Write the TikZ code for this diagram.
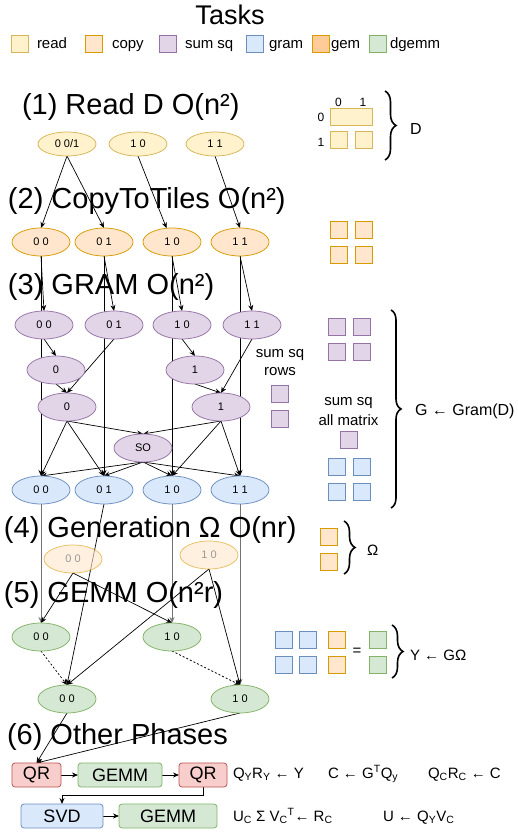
\documentclass[tikz,border=0pt]{standalone}
\usepackage{fontspec}
\setmainfont{Liberation Sans}
\usetikzlibrary{shapes.geometric,arrows.meta,decorations.pathreplacing,backgrounds}
\definecolor{readF}{HTML}{FFF2CC}\definecolor{readD}{HTML}{D6B656}
\definecolor{copyF}{HTML}{FFE6CC}\definecolor{copyD}{HTML}{D79B00}
\definecolor{sumF}{HTML}{E1D5E7}\definecolor{sumD}{HTML}{9673A6}
\definecolor{gramF}{HTML}{DAE8FC}\definecolor{gramD}{HTML}{6C8EBF}
\definecolor{gemF}{HTML}{FFCC99}\definecolor{gemD}{HTML}{D79B00}
\definecolor{dgF}{HTML}{D5E8D4}\definecolor{dgD}{HTML}{82B366}
\definecolor{qrF}{HTML}{F8CECC}\definecolor{qrD}{HTML}{B85450}
\newcommand\myfs[1]{\fontsize{#1}{#1}\selectfont}
\begin{document}
\begin{tikzpicture}[x=1pt,y=-1pt,
  every node/.style={inner sep=0pt, outer sep=0pt},
  ell/.style={ellipse, minimum width=58pt, minimum height=28pt, line width=0.75pt, font=\myfs{11}},
  readn/.style={ell, minimum height=24pt, fill=readF, draw=readD},
  copyn/.style={ell, fill=copyF, draw=copyD},
  sumn/.style={ell, fill=sumF, draw=sumD},
  gramn/.style={ell, fill=gramF, draw=gramD},
  omn/.style={ell, fill=copyF, draw=copyD, fill opacity=0.6, draw opacity=0.6, text=black!40, text opacity=1},
  dgn/.style={ell, fill=dgF, draw=dgD},
  taskbox/.style={rectangle, rounded corners=3pt, minimum height=24pt, line width=0.75pt, font=\myfs{18}},
  sq/.style={rectangle, minimum width=17pt, minimum height=17pt, line width=0.9pt},
  sqread/.style={sq, fill=readF, draw=readD},
  sqcopy/.style={sq, fill=copyF, draw=copyD},
  sqsum/.style={sq, fill=sumF, draw=sumD},
  sqgram/.style={sq, fill=gramF, draw=gramD},
  sqgem/.style={sq, fill=gemF, draw=gemD},
  sqdg/.style={sq, fill=dgF, draw=dgD},
  hd/.style={anchor=west, font=\myfs{29}},
  lbl/.style={anchor=base west, font=\myfs{15}},
  arr/.style={-{Stealth[length=6pt,width=5pt]}, line width=0.7pt},
  brc/.style={decorate, decoration={brace, amplitude=#1}, line width=1.6pt},
  brc/.default=10pt
]
\useasboundingbox (0,0) rectangle (518,832);

% title and legend
\node[font=\myfs{27}] (title) at (230,15) {Tasks};
\node[sqread] (lg1) at (20,43.5) {};
\node[lbl] (lt1) at (37,49) {read};
\node[sqcopy] (lg2) at (94,43.5) {};
\node[lbl] (lt2) at (112,49) {copy};
\node[sqsum] (lg3) at (168,43.5) {};
\node[lbl] (lt3) at (185,49) {sum sq};
\node[sqgram] (lg4) at (254.5,43.5) {};
\node[lbl] (lt4) at (269,49) {gram};
\node[sqgem] (lg5) at (320.5,43.5) {};
\node[lbl] (lt5) at (331,49) {gem};
\node[sqdg] (lg6) at (378,43.5) {};
\node[lbl] (lt6) at (390,49) {dgemm};

% headings
\node[hd] (h1) at (22,107) {(1) Read D O(n²)};
\node[hd] (h2) at (8,201) {(2) CopyToTiles O(n²)};
\node[hd] (h3) at (8,287) {(3) GRAM O(n²)};
\node[hd] (h4) at (4,530) {(4) Generation Ω O(nr)};
\node[hd] (h5) at (4,595) {(5) GEMM O(n²r)};
\node[hd] (h6) at (7,737) {(6) Other Phases};

% read
\node[readn] (r0) at (67,144) {0 0/1};
\node[readn] (r1) at (138,144) {1 0};
\node[readn] (r2) at (215,144) {1 1};
% copy
\node[copyn] (c00) at (41,242) {0 0};
\node[copyn] (c01) at (104,242) {0 1};
\node[copyn] (c10) at (172,242) {1 0};
\node[copyn] (c11) at (240,242) {1 1};
% sum sq
\node[sumn] (s00) at (44,325) {0 0};
\node[sumn] (s01) at (114,325) {0 1};
\node[sumn] (s10) at (182,325) {1 0};
\node[sumn] (s11) at (252,325) {1 1};
\node[sumn] (l20) at (56,370) {0};
\node[sumn] (l21) at (195,370) {1};
\node[sumn] (l30) at (67,407) {0};
\node[sumn] (l31) at (221,407) {1};
\node[sumn] (so) at (143,448) {SO};
% gram
\node[gramn] (g00) at (41,490) {0 0};
\node[gramn] (g01) at (104,490) {0 1};
\node[gramn] (g10) at (172,490) {1 0};
\node[gramn] (g11) at (240,490) {1 1};
% omega
\node[omn] (o0) at (73,559) {0 0};
\node[omn] (o1) at (209,555) {1 0};
% gemm
\node[dgn] (e00) at (41,637) {0 0};
\node[dgn] (e10) at (172,637) {1 0};
\node[dgn] (f00) at (67,699) {0 0};
\node[dgn] (f10) at (240,699) {1 0};

% other phases
\node[taskbox, minimum width=49pt, fill=qrF, draw=qrD] (qr1) at (36.5,775) {QR};
\node[taskbox, minimum width=84pt, fill=dgF, draw=dgD] (gm1) at (120,775) {GEMM};
\node[taskbox, minimum width=48pt, fill=qrF, draw=qrD] (qr2) at (203,775) {QR};
\node[taskbox, minimum width=82pt, fill=gramF, draw=gramD] (svd) at (62,816) {SVD};
\node[taskbox, minimum width=98pt, fill=dgF, draw=dgD] (gm2) at (168,816) {GEMM};
\node[lbl] (t1) at (233,778) {Q\textsubscript{Y}R\textsubscript{Y} ← Y};
\node[lbl] (t2) at (328,778) {C ← G\textsuperscript{T}Q\textsubscript{y}};
\node[lbl] (t3) at (428,778) {Q\textsubscript{C}R\textsubscript{C} ← C};
\node[lbl] (t4) at (233,821) {U\textsubscript{C} Σ V\textsubscript{C}\textsuperscript{T}← R\textsubscript{C}};
\node[lbl] (t5) at (383,821) {U ← Q\textsubscript{Y}V\textsubscript{C}};

% right side: D
\node[font=\myfs{12}] (cl0) at (338.5,102) {0};
\node[font=\myfs{12}] (cl1) at (363,102) {1};
\node[font=\myfs{12}] (rl0) at (321,117) {0};
\node[font=\myfs{12}] (rl1) at (321,142) {1};
\node[sqread, minimum width=42pt] (dw) at (351,116.5) {};
\node[sqread] (d10) at (338.5,139.5) {};
\node[sqread] (d11) at (363.5,139.5) {};
\draw[brc=11pt] (385,91) -- (385,160);
\node[anchor=base west, font=\myfs{16}] (dl) at (410,135) {D};
% copy tiles
\node[sqcopy] (k1) at (338.5,230) {};
\node[sqcopy] (k2) at (363.5,230) {};
\node[sqcopy] (k3) at (338.5,254.5) {};
\node[sqcopy] (k4) at (363.5,254.5) {};
% gram block
\node[sqsum] (p1) at (336.5,326.5) {};
\node[sqsum] (p2) at (361.5,326.5) {};
\node[sqsum] (p3) at (336.5,351.5) {};
\node[sqsum] (p4) at (361.5,351.5) {};
\node[anchor=base, font=\myfs{15}] (ss1) at (280,357) {sum sq};
\node[anchor=base, font=\myfs{15}] (ss2) at (280,375) {rows};
\node[sqsum] (p5) at (280,393.5) {};
\node[sqsum] (p6) at (280,418.5) {};
\node[anchor=base, font=\myfs{15}] (sa1) at (348.5,405) {sum sq};
\node[anchor=base, font=\myfs{15}] (sa2) at (348.5,425) {all matrix};
\node[sqsum] (p7) at (348.5,440) {};
\node[sqgram] (b1) at (336.5,466.5) {};
\node[sqgram] (b2) at (361.5,466.5) {};
\node[sqgram] (b3) at (336.5,491.5) {};
\node[sqgram] (b4) at (361.5,491.5) {};
\draw[brc=10pt] (391,310) -- (391,508);
\node[anchor=base west, font=\myfs{16}] (gl) at (415,415) {G ← Gram(D)};
% omega
\node[sqcopy] (w1) at (328.5,536.5) {};
\node[sqcopy] (w2) at (328.5,561.5) {};
\draw[brc=11pt] (344,521) -- (344,574);
\node[anchor=base west, font=\myfs{15}] (wl) at (367,555) {Ω};
% Y
\node[sqgram] (y1) at (283.5,639.5) {};
\node[sqgram] (y2) at (308,639.5) {};
\node[sqgram] (y3) at (283.5,664.5) {};
\node[sqgram] (y4) at (308,664.5) {};
\node[sqcopy] (y5) at (336.5,639.5) {};
\node[sqcopy] (y6) at (336.5,664.5) {};
\node[font=\myfs{15}] (eq) at (357,652) {=};
\node[sqdg] (y7) at (378,639.5) {};
\node[sqdg] (y8) at (378,664.5) {};
\draw[brc=11pt] (392,625) -- (392,678);
\node[anchor=base west, font=\myfs{15}] (yl) at (410,660) {Y ← GΩ};

\begin{scope}[on background layer]
\fill[white] (0,0) rectangle (518,832);
% read -> copy
\draw[arr] (r0.south) -- (c00.north);
\draw[arr] (r0.south) -- (c01.north);
\draw[arr] (r1.south) -- (c10);
\draw[arr] (r2.south) -- (c11.north);
% copy -> sum sq, gram
\foreach \a/\b in {00/00,01/01,10/10,11/11}{
  \draw[arr] (c\a.south) -- (s\b.north);
  \draw[arr] (c\a.south) -- (g\b.north);
}
\draw[arr] (s00.south) -- (l20.north);
\draw[arr] (s01.south) -- (l30.north);
\draw[arr] (l20.south) -- (l30.north);
\draw[arr] (s10.south) -- (l21.north);
\draw[arr] (s11.south) -- (l31.north);
\draw[arr] (l21.south) -- (l31.north);
\draw[arr] (l30.south) -- (so.north);
\draw[arr] (l31.south) -- (so.north);
\draw[arr] (l30.south) -- (g00.north);
\draw[arr] (l30.south) -- (g01.north);
\draw[arr] (l31.south) -- (g10.north);
\draw[arr] (l31.south) -- (g11.north);
\foreach \g in {g00,g01,g10,g11}{
  \draw[arr] (so.south) -- (\g.north);
}
% gram -> gemm
\draw[arr, black!55] (g00.south) -- (e00.north);
\draw[arr] (g01.south) -- (f00.north);
\draw[arr, black!55] (g10.south) -- (e10.north);
\draw[arr, black!55] (g11.south) -- (f10.north);
% omega -> gemm
\draw[arr] (o0.south) -- (e00.north);
\draw[arr] (o0.south) -- (e10.north);
\draw[arr] (o1.south) -- (f00.north);
\draw[arr] (o1.south) -- (f10.north);
\draw[arr, dash pattern=on 2pt off 2pt] (e00.south) -- (f00.north);
\draw[arr, dash pattern=on 2pt off 2pt] (e10.south) -- (f10.north);
% gemm -> QR
\draw[arr] (f00.south) -- (qr1.north);
\draw[arr] (f10.south) -- (qr1.north);
% other phases
\draw[arr] (qr1) -- (gm1);
\draw[arr] (gm1) -- (qr2);
\draw[arr] (qr2.south) -- ++(0,8) -| (svd.north);
\draw[arr] (svd) -- (gm2);
\end{scope}
\end{tikzpicture}
\end{document}
